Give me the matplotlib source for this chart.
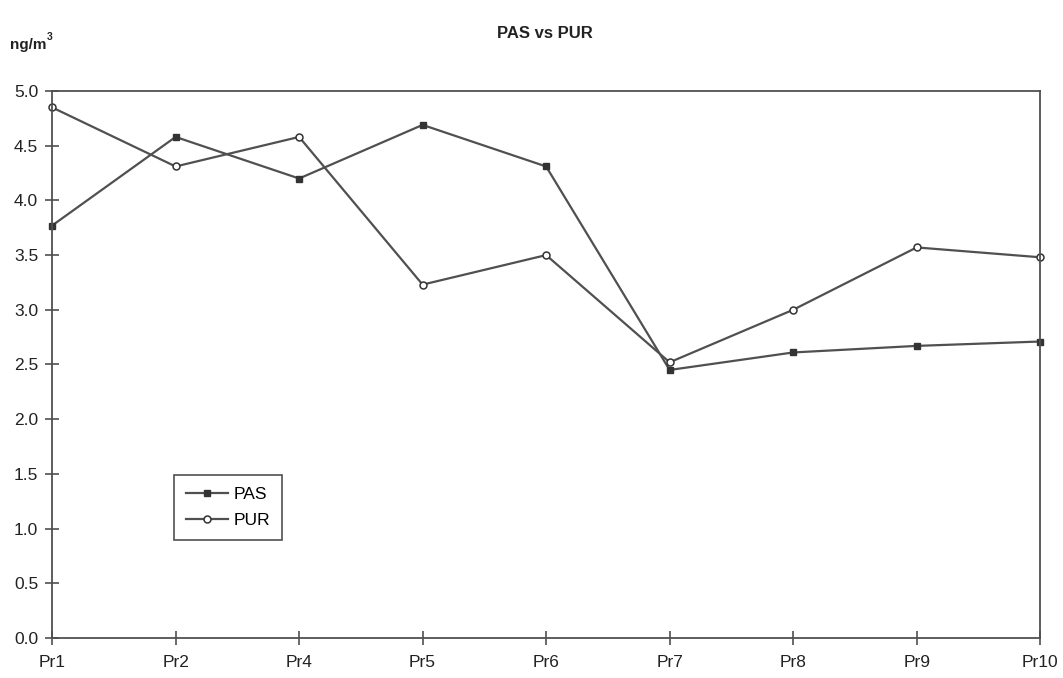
import matplotlib.pyplot as plt

plt.rcParams['font.family'] = ['Liberation Sans', 'DejaVu Sans']

# data
samples = ["Pr1", "Pr2", "Pr4", "Pr5", "Pr6", "Pr7", "Pr8", "Pr9", "Pr10"]
pas = [3.77, 4.58, 4.20, 4.69, 4.31, 2.45, 2.61, 2.67, 2.71]
pur = [4.85, 4.31, 4.58, 3.23, 3.50, 2.52, 3.00, 3.57, 3.48]
y_ticks = [0.0, 0.5, 1.0, 1.5, 2.0, 2.5, 3.0, 3.5, 4.0, 4.5, 5.0]

line_col = "#505050"

fig = plt.figure(figsize=(10.63, 6.78), dpi=100)
ax = fig.add_axes([0.049, 0.059, 0.9295, 0.8068])

x = range(len(samples))
ax.plot(x, pas, color=line_col, lw=1.6, marker="s", ms=5,
        mfc="#333333", mec="#333333", label="PAS", clip_on=False)
ax.plot(x, pur, color=line_col, lw=1.6, marker="o", ms=5,
        mfc="white", mec="#333333", mew=1.1, label="PUR", clip_on=False)

ax.set_xlim(0, len(samples) - 1)
ax.set_ylim(0, 5.0)
ax.set_xticks(list(x))
ax.set_xticklabels(samples)
ax.set_yticks(y_ticks)
ax.set_yticklabels([f"{v:.1f}" for v in y_ticks])

for s in ax.spines.values():
    s.set_color(line_col)
    s.set_linewidth(1.3)
ax.tick_params(direction="inout", length=10, width=1.2, color=line_col,
               labelsize=12.5, labelcolor="#222222", pad=5)
ax.tick_params(axis="x", pad=7)

fig.text(0.513, 0.95, "PAS vs PUR", ha="center", va="center",
         fontsize=12, fontweight="bold", color="#222222")
fig.text(0.009, 0.933, "ng/m", ha="left", va="center",
         fontsize=11, fontweight="bold", color="#222222")
fig.text(0.0442, 0.946, "3", ha="left", va="center",
         fontsize=7.5, fontweight="bold", color="#222222")

leg = ax.legend(loc="lower left", bbox_to_anchor=(0.1235, 0.179),
                fancybox=False, framealpha=1, edgecolor=line_col,
                fontsize=12.5, handlelength=2.4, handletextpad=0.3,
                borderpad=0.7, borderaxespad=0, labelspacing=0.6)
leg.get_frame().set_linewidth(1.2)

plt.savefig("out.png", dpi=100)
